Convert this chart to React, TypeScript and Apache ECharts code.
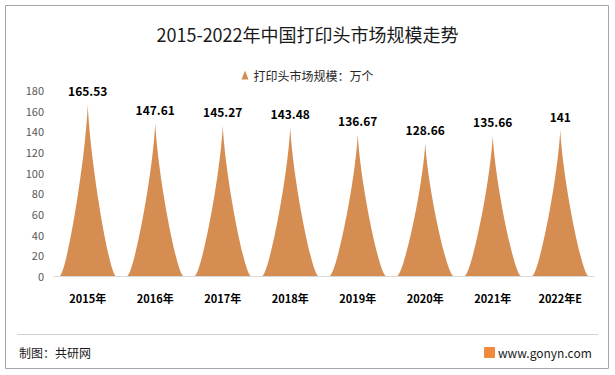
import React, { useEffect, useRef } from "react";
import * as echarts from "echarts";

const categories = ["2015年", "2016年", "2017年", "2018年", "2019年", "2020年", "2021年", "2022年E"];
const values = [165.53, 147.61, 145.27, 143.48, 136.67, 128.66, 135.66, 141];
const seriesName = "打印头市场规模：万个";
const titleText = "2015-2022年中国打印头市场规模走势";

const spike = "path://M0,10 C1.2,9.8 4.5,3.5 5,0 C5.5,3.5 8.8,9.8 10,10 Z";
const FONT = "'Noto Sans CJK SC', 'Liberation Sans', sans-serif";

export default function App() {
  const ref = useRef<HTMLDivElement>(null);
  useEffect(() => {
    if (!ref.current) return;
    const chart = echarts.init(ref.current, null, { renderer: "svg" });
    chart.setOption({
      animation: false,
      backgroundColor: "#ffffff",
      textStyle: { fontFamily: FONT },
      title: {
        text: titleText,
        left: "center",
        top: 20,
        textStyle: { fontSize: 18, fontWeight: "normal", color: "#1a1a1a", fontFamily: FONT },
      },
      legend: {
        data: [seriesName],
        top: 64,
        left: "center",
        icon: "triangle",
        itemWidth: 7,
        itemHeight: 9,
        itemGap: 4,
        textStyle: { fontSize: 12, color: "#262626", fontFamily: FONT },
      },
      grid: { left: 54, right: 21, top: 90, bottom: 99 },
      xAxis: {
        type: "category",
        data: categories,
        axisLine: { lineStyle: { color: "#d9d9d9" } },
        axisTick: { show: false },
        axisLabel: { color: "#000", fontSize: 11, fontWeight: "bold", margin: 16, fontFamily: FONT },
      },
      yAxis: {
        type: "value",
        min: 0,
        max: 180,
        interval: 20,
        splitLine: { show: false },
        axisLine: { show: false },
        axisTick: { show: false },
        axisLabel: { color: "#595959", fontSize: 11, margin: 10, fontFamily: FONT },
      },
      series: [
        {
          name: seriesName,
          type: "pictorialBar",
          symbol: spike,
          barCategoryGap: "17%",
          itemStyle: { color: "#D68D52" },
          label: {
            show: true,
            position: "top",
            distance: 8,
            color: "#000",
            fontSize: 12,
            fontWeight: "bold",
            fontFamily: FONT,
          },
          data: values,
        },
      ],
      graphic: [
        {
          type: "rect",
          shape: { x: 5.5, y: 5.5, width: 603, height: 363 },
          style: { fill: "none", stroke: "#a6a6a6", lineWidth: 1 },
          silent: true,
        },
        {
          type: "line",
          shape: { x1: 17, y1: 334.5, x2: 598, y2: 334.5 },
          style: { stroke: "#d0d0d0", lineWidth: 1 },
        },
        {
          type: "text",
          x: 19,
          y: 346,
          style: { text: "制图：共研网", fontSize: 12, fill: "#1a1a1a", fontFamily: FONT },
        },
        {
          type: "rect",
          shape: { x: 484, y: 347, width: 11, height: 11, r: 1 },
          style: { fill: "#f08a3c" },
        },
        {
          type: "text",
          x: 498,
          y: 346,
          style: { text: "www.gonyn.com", fontSize: 12, fill: "#1a1a1a", fontFamily: FONT },
        },
      ],
    });
    return () => chart.dispose();
  }, []);
  return <div ref={ref} style={{ position: "fixed", left: 0, top: 0, width: 615, height: 375 }} />;
}
